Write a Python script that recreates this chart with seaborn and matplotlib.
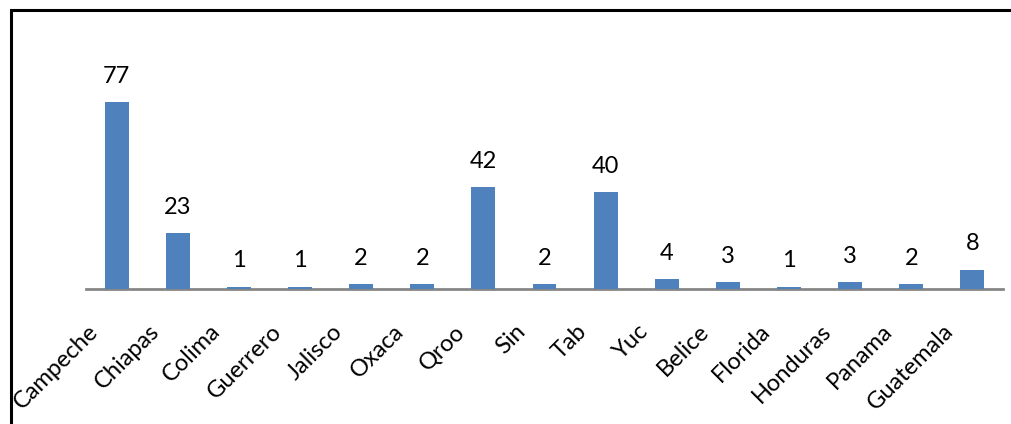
import matplotlib
matplotlib.use("Agg")
import matplotlib.pyplot as plt
import matplotlib.transforms as mtransforms
from matplotlib.patches import Rectangle
import seaborn as sns
import pandas as pd

# Data
categories = ["Campeche", "Chiapas", "Colima", "Guerrero", "Jalisco", "Oxaca",
              "Qroo", "Sin", "Tab", "Yuc", "Belice", "Florida", "Honduras",
              "Panama", "Guatemala"]
counts = [77, 23, 1, 1, 2, 2, 42, 2, 40, 4, 3, 1, 3, 2, 8]

df = pd.DataFrame({"lugar": categories, "n": counts})

sns.set_theme(style="white")
plt.rcParams["font.family"] = ["Lato", "DejaVu Sans"]

fig = plt.figure(figsize=(10.12, 4.24), dpi=100)
ax = fig.add_axes([0.085, 0.318, 0.906, 0.635])

sns.barplot(data=df, x="lugar", y="n", color="#4F81BD", width=0.39,
            saturation=1, ax=ax, zorder=3, linewidth=0, edgecolor="none")

ax.set_ylim(0, 111)
ax.set_xlim(-0.5, len(categories) - 0.5)
ax.set_xlabel("")
ax.set_ylabel("")
ax.set_yticks([])
for side in ["top", "right", "left"]:
    ax.spines[side].set_visible(False)
ax.spines["bottom"].set_color("#868686")
ax.spines["bottom"].set_linewidth(2)
ax.spines["bottom"].set_zorder(1)

for cont in ax.containers:
    ax.bar_label(cont, labels=[str(v) for v in counts], padding=11,
                 fontsize=17, color="#000000")

ax.tick_params(axis="x", length=0, pad=28)
offset = mtransforms.ScaledTranslation(-0.22, 0, fig.dpi_scale_trans)
for lab in ax.get_xticklabels():
    lab.set_rotation(45)
    lab.set_ha("right")
    lab.set_va("center")
    lab.set_rotation_mode("anchor")
    lab.set_fontsize(17)
    lab.set_color("#000000")
    lab.set_transform(lab.get_transform() + offset)

# Outer frame
fig.patches.append(Rectangle((11 / 1012, -0.1), 1.2, 1 - 10 / 424 + 0.1,
                             transform=fig.transFigure, fill=False,
                             edgecolor="black", linewidth=2.2))

fig.savefig("out.png", dpi=100)
